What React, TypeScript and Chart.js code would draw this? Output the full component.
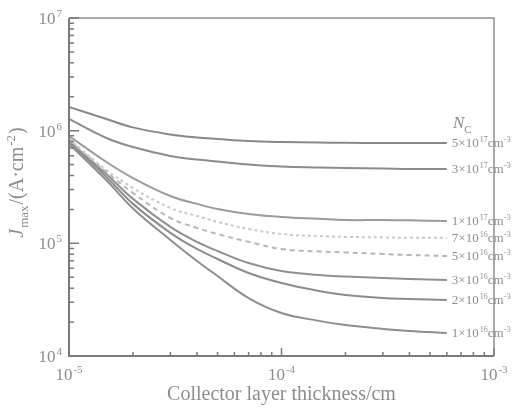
import React, { useEffect, useRef } from 'react';
import { Chart, registerables } from 'chart.js';

Chart.register(...registerables);

// Collector layer thickness (cm)
const THICKNESS = [1e-5, 1.5e-5, 2e-5, 3e-5, 4e-5, 5e-5, 7e-5, 1e-4, 1.5e-4, 2e-4, 3e-4, 4e-4, 6e-4];

// Jmax (A/cm^2) for each collector doping N_C
const J_5E17 = [1.62e6, 1.27e6, 1.07e6, 9.25e5, 8.69e5, 8.43e5, 8.09e5, 7.93e5, 7.85e5, 7.8e5, 7.78e5, 7.76e5, 7.76e5];
const J_3E17 = [1.27e6, 8.61e5, 7.16e5, 5.96e5, 5.55e5, 5.33e5, 5.01e5, 4.81e5, 4.71e5, 4.66e5, 4.62e5, 4.57e5, 4.57e5];
const J_1E17 = [8.97e5, 5.27e5, 3.8e5, 2.63e5, 2.24e5, 2.02e5, 1.82e5, 1.71e5, 1.65e5, 1.61e5, 1.61e5, 1.6e5, 1.58e5];
const J_7E16 = [8.43e5, 4.48e5, 3.1e5, 2.06e5, 1.75e5, 1.55e5, 1.34e5, 1.21e5, 1.16e5, 1.14e5, 1.13e5, 1.12e5, 1.12e5];
const J_5E16 = [8.27e5, 4.3e5, 2.8e5, 1.68e5, 1.37e5, 1.21e5, 1.03e5, 8.91e4, 8.47e4, 8.3e4, 8.04e4, 7.87e4, 7.72e4];
const J_3E16 = [8.09e5, 4.12e5, 2.48e5, 1.4e5, 1.03e5, 8.55e4, 6.7e4, 5.69e4, 5.24e4, 5.08e4, 4.92e4, 4.82e4, 4.73e4];
const J_2E16 = [7.93e5, 3.88e5, 2.24e5, 1.24e5, 8.91e4, 7.26e4, 5.46e4, 4.45e4, 3.78e4, 3.48e4, 3.27e4, 3.21e4, 3.14e4];
const J_1E16 = [7.62e5, 3.63e5, 2.04e5, 1.07e5, 6.97e4, 5.13e4, 3.27e4, 2.41e4, 2.05e4, 1.88e4, 1.74e4, 1.67e4, 1.6e4];

const SERIES = [J_5E17, J_3E17, J_1E17, J_7E16, J_5E16, J_3E16, J_2E16, J_1E16];
const NC_MANTISSA = ['5', '3', '1', '7', '5', '3', '2', '1'];
const NC_EXPONENT = ['17', '17', '17', '16', '16', '16', '16', '16'];

const X_TICK_EXPONENTS = ['-5', '-4', '-3'];
const Y_TICK_EXPONENTS = ['4', '5', '6', '7'];

const X_TITLE = 'Collector layer thickness/cm';

const LINE_COLORS = ['#888888', '#8c8c8c', '#9c9c9c', '#c8c8c8', '#b6b6b6', '#909090', '#8c8c8c', '#8e8e8e'];
const LINE_DASH: number[][] = [[], [], [], [3, 3], [5, 4], [], [], []];

const SERIF = '"Liberation Serif", "Times New Roman", "DejaVu Serif", serif';
const TEXT_COLOR = '#8c8c8c';

function drawPower(ctx: CanvasRenderingContext2D, base: string, exp: string, x: number, y: number, size: number, align: string, raise = 0.42, expScale = 0.65) {
  ctx.font = `${size}px ${SERIF}`;
  const bw = ctx.measureText(base).width;
  const es = Math.round(size * expScale);
  ctx.font = `${es}px ${SERIF}`;
  const ew = ctx.measureText(exp).width;
  const total = bw + ew + 1;
  const x0 = align === 'center' ? x - total / 2 : align === 'right' ? x - total : x;
  ctx.font = `${size}px ${SERIF}`;
  ctx.fillText(base, x0, y);
  ctx.font = `${es}px ${SERIF}`;
  ctx.fillText(exp, x0 + bw + 1, y - size * raise);
  return x0 + total;
}

const decoPlugin = {
  id: 'deco',
  afterDraw(chart: any) {
    const { ctx, chartArea: ca, scales } = chart;
    const xs = scales.x;
    const ys = scales.y;
    ctx.save();
    ctx.textAlign = 'left';
    ctx.textBaseline = 'alphabetic';

    // frame
    ctx.strokeStyle = '#8e8e8e';
    ctx.lineWidth = 1.5;
    ctx.beginPath();
    ctx.moveTo(ca.left, ca.top);
    ctx.lineTo(ca.right, ca.top);
    ctx.lineTo(ca.right, ca.bottom);
    ctx.stroke();
    ctx.strokeStyle = '#7a7a7a';
    ctx.lineWidth = 2;
    ctx.beginPath();
    ctx.moveTo(ca.left, ca.top);
    ctx.lineTo(ca.left, ca.bottom);
    ctx.lineTo(ca.right, ca.bottom);
    ctx.stroke();

    // inward ticks
    ctx.lineWidth = 1.5;
    ctx.strokeStyle = '#7a7a7a';
    ctx.beginPath();
    for (let e = -5; e <= -3; e++) {
      for (let k = 1; k <= 9; k++) {
        const v = k * Math.pow(10, e);
        if (v > xs.max * 1.0001) break;
        const px = xs.getPixelForValue(v);
        const len = k === 1 ? 8 : 4;
        ctx.moveTo(px, ca.bottom);
        ctx.lineTo(px, ca.bottom - len);
      }
    }
    for (let e = 4; e <= 7; e++) {
      for (let k = 1; k <= 9; k++) {
        const v = k * Math.pow(10, e);
        if (v > ys.max * 1.0001) break;
        const py = ys.getPixelForValue(v);
        const len = k === 1 ? 10 : 5;
        ctx.moveTo(ca.left, py);
        ctx.lineTo(ca.left + len, py);
      }
    }
    ctx.stroke();

    ctx.fillStyle = TEXT_COLOR;
    // x tick labels
    X_TICK_EXPONENTS.forEach((ex) => {
      const px = xs.getPixelForValue(Math.pow(10, Number(ex)));
      drawPower(ctx, '10', ex, px, 380, 17, 'center');
    });
    // y tick labels
    Y_TICK_EXPONENTS.forEach((ex) => {
      const py = ys.getPixelForValue(Math.pow(10, Number(ex)));
      drawPower(ctx, '10', ex, ca.left - 7, py + 6, 17, 'right');
    });

    // x title
    ctx.font = `20px ${SERIF}`;
    ctx.textAlign = 'center';
    ctx.fillText(X_TITLE, (ca.left + ca.right) / 2, 400);
    ctx.textAlign = 'left';

    // y title (rotated)
    ctx.save();
    ctx.translate(23, 182);
    ctx.rotate(-Math.PI / 2);
    const big = 20;
    const small = 13;
    const parts = [
      { t: 'J', f: `italic ${big}px ${SERIF}`, dy: 0 },
      { t: 'max', f: `${small}px ${SERIF}`, dy: 5 },
      { t: '/(A\u00b7cm', f: `${big}px ${SERIF}`, dy: 0 },
      { t: '-2', f: `${small}px ${SERIF}`, dy: -8 },
      { t: ')', f: `${big}px ${SERIF}`, dy: 0 },
    ];
    let total = 0;
    const widths = parts.map((p) => {
      ctx.font = p.f;
      const w = ctx.measureText(p.t).width + 1;
      total += w;
      return w;
    });
    let u = -total / 2;
    parts.forEach((p, i) => {
      ctx.font = p.f;
      ctx.fillText(p.t, u, p.dy);
      u += widths[i];
    });
    ctx.restore();

    // N_C header
    ctx.font = `italic 17px ${SERIF}`;
    ctx.fillText('N', 453, 128);
    const nw = ctx.measureText('N').width;
    ctx.font = `11px ${SERIF}`;
    ctx.fillText('C', 453 + nw, 133);

    // series labels
    chart.data.datasets.forEach((ds: any, i: number) => {
      const last = ds.data[ds.data.length - 1];
      const py = ys.getPixelForValue(last.y);
      const px = xs.getPixelForValue(last.x) + 5;
      const x1 = drawPower(ctx, NC_MANTISSA[i] + '\u00d710', NC_EXPONENT[i], px, py + 4, 13, 'left', 0.4, 0.62);
      ctx.font = `13px ${SERIF}`;
      ctx.fillText('cm', x1, py + 4);
      const cw = ctx.measureText('cm').width;
      ctx.font = `8px ${SERIF}`;
      ctx.fillText('-3', x1 + cw + 0.5, py - 1);
    });

    ctx.restore();
  },
};

export default function App() {
  const ref = useRef<HTMLCanvasElement | null>(null);
  useEffect(() => {
    if (!ref.current) return;
    const datasets = SERIES.map((vals, i) => ({
      label: `${NC_MANTISSA[i]}e${NC_EXPONENT[i]}`,
      data: THICKNESS.map((t, j) => ({ x: t, y: vals[j] })),
      borderColor: LINE_COLORS[i],
      borderWidth: 2,
      borderDash: LINE_DASH[i],
      pointRadius: 0,
      fill: false,
      tension: 0.4,
    }));
    const chart = new Chart(ref.current, {
      type: 'line',
      data: { datasets },
      options: {
        animation: false,
        responsive: false,
        devicePixelRatio: 1,
        layout: { padding: { top: 18, right: 24, left: 0, bottom: 0 } },
        plugins: { legend: { display: false }, tooltip: { enabled: false } },
        scales: {
          x: {
            type: 'logarithmic',
            min: 1e-5,
            max: 1e-3,
            ticks: { display: false },
            grid: { display: false },
            border: { display: false },
            afterFit: (s: any) => { s.height = 56; },
          },
          y: {
            type: 'logarithmic',
            min: 1e4,
            max: 1e7,
            ticks: { display: false },
            grid: { display: false },
            border: { display: false },
            afterFit: (s: any) => { s.width = 69; },
          },
        },
      } as any,
      plugins: [decoPlugin],
    });
    return () => chart.destroy();
  }, []);
  return (
    <div style={{ position: 'fixed', left: 0, top: 0, width: 518, height: 412, background: '#fff' }}>
      <canvas ref={ref} width={518} height={412} style={{ display: 'block', width: 518, height: 412 }} />
    </div>
  );
}
